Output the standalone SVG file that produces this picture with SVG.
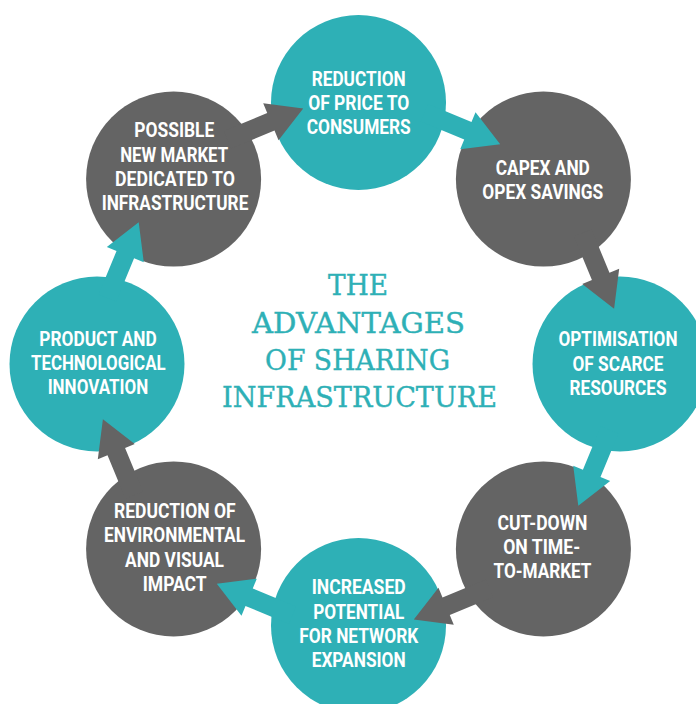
<svg xmlns="http://www.w3.org/2000/svg" xmlns:xlink="http://www.w3.org/1999/xlink" width="696" height="704" viewBox="0 0 696 704">
  <style>
    .teal { fill: #2eb0b6; }
    .gray { fill: #646464; }
    .label { font-family: "Liberation Sans Narrow", "Roboto", "Liberation Sans", sans-serif; font-weight: bold; font-size: 20px; fill: #ffffff; text-anchor: middle; }
    .title { font-family: "DejaVu Serif", "Liberation Serif", serif; font-size: 28px; fill: #2eb0b6; stroke: #2eb0b6; stroke-width: 0.4; text-anchor: middle; }
  </style>
  <defs>
    <!-- block arrow, tip at origin, pointing along +x -->
    <path id="arrow" d="M0,0 L-35,-20 L-35,-9.5 L-82,-9.5 L-82,9.5 L-35,9.5 L-35,20 Z"/>
  </defs>
  <rect width="696" height="704" fill="#ffffff"/>

  <g id="node-price">
    <circle class="teal" cx="358.5" cy="102.5" r="87.5"/>
    <text class="label"><tspan x="358.7" y="86" textLength="94" lengthAdjust="spacingAndGlyphs">REDUCTION</tspan><tspan x="358.7" y="110" textLength="101" lengthAdjust="spacingAndGlyphs">OF PRICE TO</tspan><tspan x="358.7" y="134.3" textLength="104" lengthAdjust="spacingAndGlyphs">CONSUMERS</tspan></text>
  </g>
  <g id="node-capex">
    <circle class="gray" cx="543.4" cy="179.1" r="87.5"/>
    <text class="label"><tspan x="542.8" y="175" textLength="94" lengthAdjust="spacingAndGlyphs">CAPEX AND</tspan><tspan x="542.8" y="198.5" textLength="121" lengthAdjust="spacingAndGlyphs">OPEX SAVINGS</tspan></text>
  </g>
  <g id="node-optimisation">
    <circle class="teal" cx="620" cy="364" r="87.5"/>
    <text class="label"><tspan x="618" y="346" textLength="119" lengthAdjust="spacingAndGlyphs">OPTIMISATION</tspan><tspan x="618" y="370.5" textLength="91" lengthAdjust="spacingAndGlyphs">OF SCARCE</tspan><tspan x="618" y="395" textLength="97" lengthAdjust="spacingAndGlyphs">RESOURCES</tspan></text>
  </g>
  <g id="node-time-to-market">
    <circle class="gray" cx="543.4" cy="548.9" r="87.5"/>
    <text class="label"><tspan x="542.5" y="530" textLength="90" lengthAdjust="spacingAndGlyphs">CUT-DOWN</tspan><tspan x="541.7" y="554" textLength="77" lengthAdjust="spacingAndGlyphs">ON TIME-</tspan><tspan x="542.5" y="578.3" textLength="98" lengthAdjust="spacingAndGlyphs">TO-MARKET</tspan></text>
  </g>
  <g id="node-network">
    <circle class="teal" cx="358.5" cy="625.5" r="87.5"/>
    <text class="label"><tspan x="358.7" y="594" textLength="94" lengthAdjust="spacingAndGlyphs">INCREASED</tspan><tspan x="358.7" y="619" textLength="91" lengthAdjust="spacingAndGlyphs">POTENTIAL</tspan><tspan x="358.8" y="643.3" textLength="119" lengthAdjust="spacingAndGlyphs">FOR NETWORK</tspan><tspan x="358.7" y="667.3" textLength="94" lengthAdjust="spacingAndGlyphs">EXPANSION</tspan></text>
  </g>
  <g id="node-environment">
    <circle class="gray" cx="173.6" cy="548.9" r="87.5"/>
    <text class="label"><tspan x="174.8" y="518.3" textLength="121.7" lengthAdjust="spacingAndGlyphs">REDUCTION OF</tspan><tspan x="174.5" y="542" textLength="141" lengthAdjust="spacingAndGlyphs">ENVIRONMENTAL</tspan><tspan x="174.5" y="566.7" textLength="99" lengthAdjust="spacingAndGlyphs">AND VISUAL</tspan><tspan x="174.7" y="590.7" textLength="64" lengthAdjust="spacingAndGlyphs">IMPACT</tspan></text>
  </g>
  <g id="node-innovation">
    <circle class="teal" cx="97" cy="364" r="87.5"/>
    <text class="label"><tspan x="98" y="346" textLength="117.4" lengthAdjust="spacingAndGlyphs">PRODUCT AND</tspan><tspan x="98.3" y="370" textLength="134.7" lengthAdjust="spacingAndGlyphs">TECHNOLOGICAL</tspan><tspan x="98" y="394.3" textLength="100.7" lengthAdjust="spacingAndGlyphs">INNOVATION</tspan></text>
  </g>
  <g id="node-new-market">
    <circle class="gray" cx="173.6" cy="179.1" r="87.5"/>
    <text class="label"><tspan x="174.3" y="137.3" textLength="80" lengthAdjust="spacingAndGlyphs">POSSIBLE</tspan><tspan x="174.2" y="161.7" textLength="108" lengthAdjust="spacingAndGlyphs">NEW MARKET</tspan><tspan x="175" y="186" textLength="120" lengthAdjust="spacingAndGlyphs">DEDICATED TO</tspan><tspan x="175" y="210" textLength="146.7" lengthAdjust="spacingAndGlyphs">INFRASTRUCTURE</tspan></text>
  </g>

  <g id="connectors">
    <use xlink:href="#arrow" class="teal" transform="translate(500.2,144.2) rotate(22.5)"/>
    <use xlink:href="#arrow" class="gray" transform="translate(614.1,308.7) rotate(67.5)"/>
    <use xlink:href="#arrow" class="teal" transform="translate(578.3,505.7) rotate(112.5)"/>
    <use xlink:href="#arrow" class="gray" transform="translate(413.8,619.6) rotate(157.5)"/>
    <use xlink:href="#arrow" class="teal" transform="translate(216.8,583.8) rotate(202.5)"/>
    <use xlink:href="#arrow" class="gray" transform="translate(102.9,419.3) rotate(247.5)"/>
    <use xlink:href="#arrow" class="teal" transform="translate(138.7,222.3) rotate(292.5)"/>
    <use xlink:href="#arrow" class="gray" transform="translate(303.2,108.4) rotate(337.5)"/>
  </g>

  <g id="title">
    <text class="title"><tspan x="358" y="295" textLength="60" lengthAdjust="spacingAndGlyphs">THE</tspan><tspan x="358.5" y="333" textLength="213" lengthAdjust="spacingAndGlyphs">ADVANTAGES</tspan><tspan x="357.5" y="370" textLength="185" lengthAdjust="spacingAndGlyphs">OF SHARING</tspan><tspan x="359.5" y="407" textLength="275" lengthAdjust="spacingAndGlyphs">INFRASTRUCTURE</tspan></text>
  </g>
</svg>
